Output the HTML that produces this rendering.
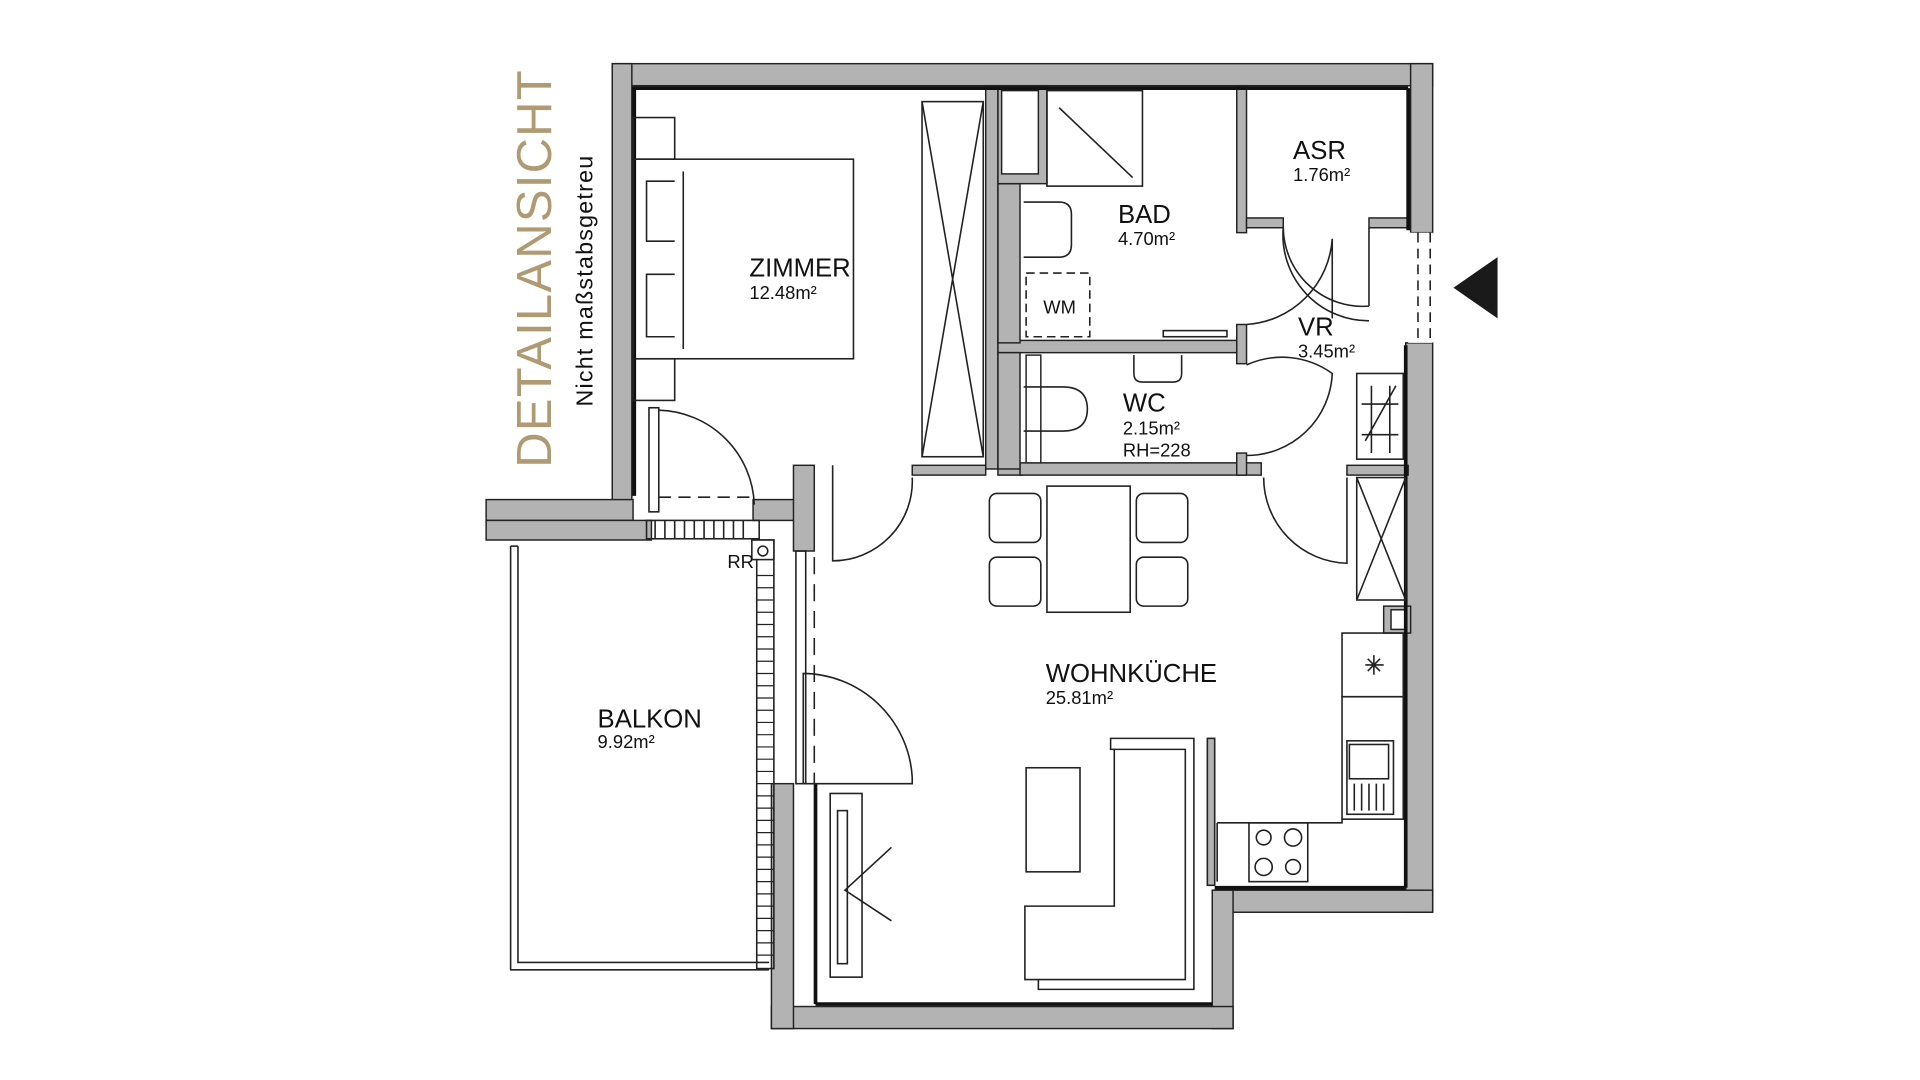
<!DOCTYPE html>
<html><head><meta charset="utf-8"><style>
html,body{margin:0;padding:0;background:#fff}
svg{display:block}
text{font-family:"Liberation Sans",sans-serif;fill:#111}
</style></head><body>
<svg width="1920" height="1080" viewBox="0 0 1568 882" xmlns="http://www.w3.org/2000/svg">
<g fill="#b3b3b3" stroke="#222" stroke-width="1.2">
<rect x="500" y="52" width="670" height="18"/>
<rect x="500" y="52" width="16" height="358"/>
<rect x="1152" y="52" width="18" height="138"/>
<rect x="1148" y="280" width="22" height="465"/>
<rect x="990" y="727" width="180" height="18"/>
<rect x="990" y="727" width="17" height="113"/>
<rect x="630" y="822" width="377" height="18"/>
<rect x="630" y="640" width="18" height="200"/>
<rect x="397" y="408" width="120" height="17"/>
<rect x="397" y="425" width="135" height="16"/>
<rect x="615" y="408" width="35" height="17"/>
<rect x="648" y="380" width="17" height="70"/>
<rect x="805" y="70" width="10" height="313"/>
<rect x="745" y="380" width="60" height="8"/>
<rect x="815" y="380" width="20" height="8"/>
<rect x="833" y="378" width="197" height="10"/>
<rect x="1010" y="70" width="8" height="120"/>
<rect x="1018" y="178" width="30" height="8"/>
<rect x="1118" y="178" width="32" height="8"/>
<rect x="1010" y="265" width="8" height="32"/>
<rect x="1010" y="370" width="8" height="18"/>
<rect x="815" y="278" width="195" height="10"/>
<rect x="815" y="150" width="18" height="130"/>
<rect x="815" y="288" width="18" height="95"/>
<rect x="815" y="70" width="40" height="80"/>
<rect x="1100" y="380" width="50" height="8"/>
<rect x="1130" y="495" width="22" height="22"/>
</g>
<g fill="#fff" stroke="#222" stroke-width="1.2">
<rect x="818" y="74" width="30" height="68"/>
<rect x="838" y="290" width="12" height="88"/>
<rect x="1136" y="498" width="12" height="16"/>
</g>
<g stroke="#111" stroke-width="3" fill="none">
<line x1="516" y1="72" x2="1150" y2="72"/>
<line x1="1150" y1="72" x2="1150" y2="188"/>
<line x1="1148" y1="282" x2="1148" y2="725"/>
<line x1="992" y1="725" x2="1148" y2="725"/>
<line x1="666" y1="820" x2="990" y2="820"/>
<line x1="666" y1="640" x2="666" y2="820"/>
<line x1="518" y1="72" x2="518" y2="405"/>
</g>
<g fill="none" stroke="#222" stroke-width="1.3">
<rect x="517" y="96" width="34" height="34"/>
<rect x="517" y="130" width="180" height="163"/>
<rect x="517" y="293" width="34" height="34"/>
<path d="M551 148 H528 V197 H551 M551 224 H528 V275 H551"/>
<line x1="558" y1="140" x2="558" y2="285"/>
<rect x="753" y="83" width="50" height="290"/>
<path d="M753 83 L803 373 M803 83 L753 373"/>
<rect x="530" y="333" width="8" height="85"/>
<path d="M538 335 A80 80 0 0 1 616 412"/>
<line x1="538" y1="406" x2="616" y2="406" stroke-dasharray="10 6"/>
<rect x="528" y="425" width="92" height="15"/>
<path d="M535 425 V440 M543 425 V440 M551 425 V440 M559 425 V440 M567 425 V440 M575 425 V440 M583 425 V440 M591 425 V440 M599 425 V440 M607 425 V440"/>
<rect x="855" y="74" width="78" height="78"/>
<line x1="865" y1="88" x2="925" y2="145"/>
<path d="M836 165 H865 Q875 165 875 175 V200 Q875 210 865 210 H836"/>
<rect x="838" y="223" width="52" height="52" stroke-dasharray="7 4"/>
<rect x="950" y="270" width="52" height="5"/>
<path d="M926 290 V305 Q926 312 933 312 H958 Q965 312 965 305 V290"/>
<path d="M836 316 H868 Q888 316 888 334 Q888 352 868 352 H836"/>
<path d="M1018 265 A75 75 0 0 0 1088 195 M1088 195 V260"/>
<path d="M1048 186 A65 65 0 0 0 1118 250 M1118 186 V250"/>
<path d="M1048 186 A70 70 0 0 0 1118 262"/>
<path d="M1018 298 A70 70 0 0 1 1088 305 A70 70 0 0 1 1018 372"/>
<rect x="1150" y="190" width="20" height="90" stroke="none" fill="#fff"/>
<line x1="1158" y1="190" x2="1158" y2="280" stroke-dasharray="8 5"/>
<line x1="1168" y1="190" x2="1168" y2="280" stroke-dasharray="8 5"/>
<rect x="1108" y="305" width="38" height="70"/>
<path d="M1112 330 H1142 M1112 355 H1142 M1120 315 V370 M1135 315 V370 M1115 360 L1140 315"/>
<rect x="1108" y="390" width="40" height="100"/>
<path d="M1108 390 L1148 490 M1148 390 L1108 490"/>
<path d="M680 380 V458 A65 65 0 0 0 745 390"/>
<path d="M1032 390 A70 70 0 0 0 1100 460 V390"/>
<rect x="855" y="397" width="68" height="103"/>
<rect x="808" y="403" width="42" height="40" rx="6"/>
<rect x="808" y="455" width="42" height="40" rx="6"/>
<rect x="928" y="403" width="42" height="40" rx="6"/>
<rect x="928" y="455" width="42" height="40" rx="6"/>
<rect x="1096" y="517" width="50" height="52"/>
<rect x="1096" y="569" width="50" height="100"/>
<rect x="1100" y="605" width="38" height="60"/>
<rect x="1102" y="608" width="32" height="28"/>
<path d="M1106 640 V662 M1112 640 V662 M1118 640 V662 M1124 640 V662 M1130 640 V662"/>
<path d="M1096 669 V672 H994 M994 672 V720"/>
<rect x="1020" y="672" width="48" height="48"/>
<circle cx="1032" cy="684" r="6"/><circle cx="1056" cy="684" r="7"/>
<circle cx="1032" cy="708" r="7"/><circle cx="1056" cy="708" r="6"/>
<path d="M1115 543 H1130 M1122 535 V551 M1117 538 L1127 548 M1127 538 L1117 548"/>
<rect x="986" y="603" width="6" height="120" fill="#b3b3b3"/>
<path d="M907 603 H975 V808 H848 V800 H837 V740 H910 V612 H907 Z"/>
<path d="M910 612 H968 V800 H848"/>
<rect x="838" y="627" width="44" height="85"/>
<rect x="678" y="648" width="26" height="150"/>
<rect x="684" y="662" width="8" height="125"/>
<path d="M728 692 L690 727 L728 752"/>
<line x1="665" y1="455" x2="665" y2="640" stroke-dasharray="14 8"/>
<path d="M656 550 A90 90 0 0 1 745 635 V640 H656 Z"/>
<rect x="650" y="450" width="8" height="190"/>
<path d="M417 446 V792 H628"/>
<path d="M423 446 V786 H628"/>
<line x1="417" y1="446" x2="423" y2="446"/>
<rect x="618" y="441" width="14" height="350"/>
<rect x="614" y="441" width="18" height="16" fill="#fff"/>
<circle cx="623" cy="450" r="4"/>
</g>
<g stroke="#222" stroke-width="1">
<path d="M618 470 H632 M618 480 H632 M618 490 H632 M618 500 H632 M618 510 H632 M618 520 H632 M618 530 H632 M618 540 H632 M618 550 H632 M618 560 H632 M618 570 H632 M618 580 H632 M618 590 H632 M618 600 H632 M618 610 H632 M618 620 H632 M618 630 H632 M618 640 H632 M618 650 H632 M618 660 H632 M618 670 H632 M618 680 H632 M618 690 H632 M618 700 H632 M618 710 H632 M618 720 H632 M618 730 H632 M618 740 H632 M618 750 H632 M618 760 H632 M618 770 H632 M618 780 H632"/>
</g>
<polygon points="1187,235 1223,210 1223,260" fill="#1a1a1a"/>
<text x="0" y="0" transform="translate(450,382) rotate(-90)" font-size="40" style="fill:#b09a73" letter-spacing="1">DETAILANSICHT</text>
<text x="0" y="0" transform="translate(484,332) rotate(-90)" font-size="19" letter-spacing="1">Nicht maßstabsgetreu</text>
<g font-size="21">
<text x="612" y="226">ZIMMER</text>
<text x="913" y="182">BAD</text>
<text x="1056" y="130">ASR</text>
<text x="1060" y="274">VR</text>
<text x="917" y="336">WC</text>
<text x="854" y="557">WOHNKÜCHE</text>
<text x="488" y="594">BALKON</text>
</g>
<g font-size="15">
<text x="612" y="244">12.48m²</text>
<text x="913" y="200">4.70m²</text>
<text x="1056" y="148">1.76m²</text>
<text x="1060" y="292">3.45m²</text>
<text x="917" y="355">2.15m²</text>
<text x="917" y="373">RH=228</text>
<text x="854" y="575">25.81m²</text>
<text x="488" y="611">9.92m²</text>
<text x="852" y="256">WM</text>
<text x="594" y="464">RR</text>
</g>
</svg>
</body></html>
